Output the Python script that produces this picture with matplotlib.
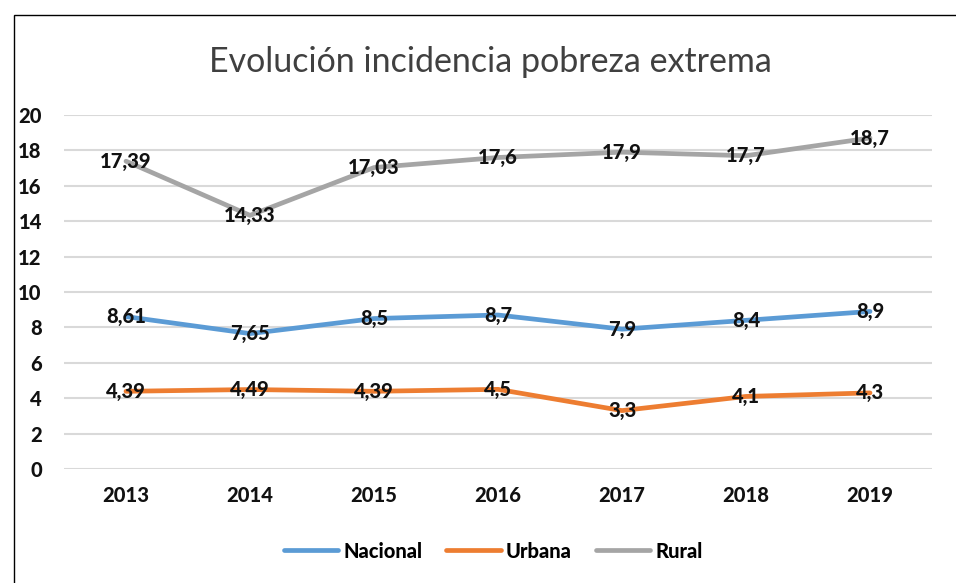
import matplotlib.pyplot as plt
from matplotlib.patches import Rectangle

years = ["2013", "2014", "2015", "2016", "2017", "2018", "2019"]
nacional = [8.61, 7.65, 8.5, 8.7, 7.9, 8.4, 8.9]
urbana = [4.39, 4.49, 4.39, 4.5, 3.3, 4.1, 4.3]
rural = [17.39, 14.33, 17.03, 17.6, 17.9, 17.7, 18.7]

nac_labels = ["8,61", "7,65", "8,5", "8,7", "7,9", "8,4", "8,9"]
urb_labels = ["4,39", "4,49", "4,39", "4,5", "3,3", "4,1", "4,3"]
rur_labels = ["17,39", "14,33", "17,03", "17,6", "17,9", "17,7", "18,7"]

plt.rcParams['font.family'] = 'Lato'
bold = {"family": "Lato", "weight": 900, "size": 14.5}

fig = plt.figure(figsize=(9.56, 5.83), dpi=100)
# chart frame
fig.patches.append(Rectangle((14 / 956, -0.1), 1.2, 1 - 15 / 583 + 0.1,
                             transform=fig.transFigure, fill=False,
                             edgecolor="black", linewidth=1))

ax = fig.add_axes([64 / 956, 1 - 469 / 583, (932 - 64) / 956, (469 - 115) / 583])
x = range(len(years))

series = [
    (nacional, nac_labels, "#5B9BD5", "Nacional"),
    (urbana, urb_labels, "#ED7D31", "Urbana"),
    (rural, rur_labels, "#A5A5A5", "Rural"),
]
for vals, labs, col, name in series:
    ax.plot(x, vals, color=col, linewidth=3.4, label=name, solid_capstyle="round", zorder=3)
    for xi, v, t in zip(x, vals, labs):
        ax.text(xi, v, t, ha="center", va="center", fontdict=bold,
                color="#111111", zorder=4)

ax.set_ylim(0, 20)
ax.set_xlim(-0.5, 6.5)
ax.set_yticks(range(0, 21, 2))
ax.set_yticklabels([str(v) for v in range(0, 21, 2)], fontdict=bold)
ax.set_xticks(list(x))
ax.set_xticklabels(years, fontdict=bold)
ax.grid(axis="y", color="#d9d9d9", linewidth=1.5)
ax.set_axisbelow(True)
for s in ax.spines.values():
    s.set_visible(False)
ax.tick_params(length=0, labelcolor="#111111")
ax.tick_params(axis="x", pad=12)
ax.tick_params(axis="y", pad=16)

fig.text(490 / 956, 1 - 62 / 583, "Evolución incidencia pobreza extrema",
         ha="center", va="center", fontsize=24.5, color="#404040", family="Lato")

ax.legend(loc="center", bbox_to_anchor=((493 - 64) / 868, -(551 - 469) / 354), ncol=3,
          frameon=False, prop=bold, handlelength=2.7,
          columnspacing=1.2, handletextpad=0.25)

fig.savefig("out.png", dpi=100)
